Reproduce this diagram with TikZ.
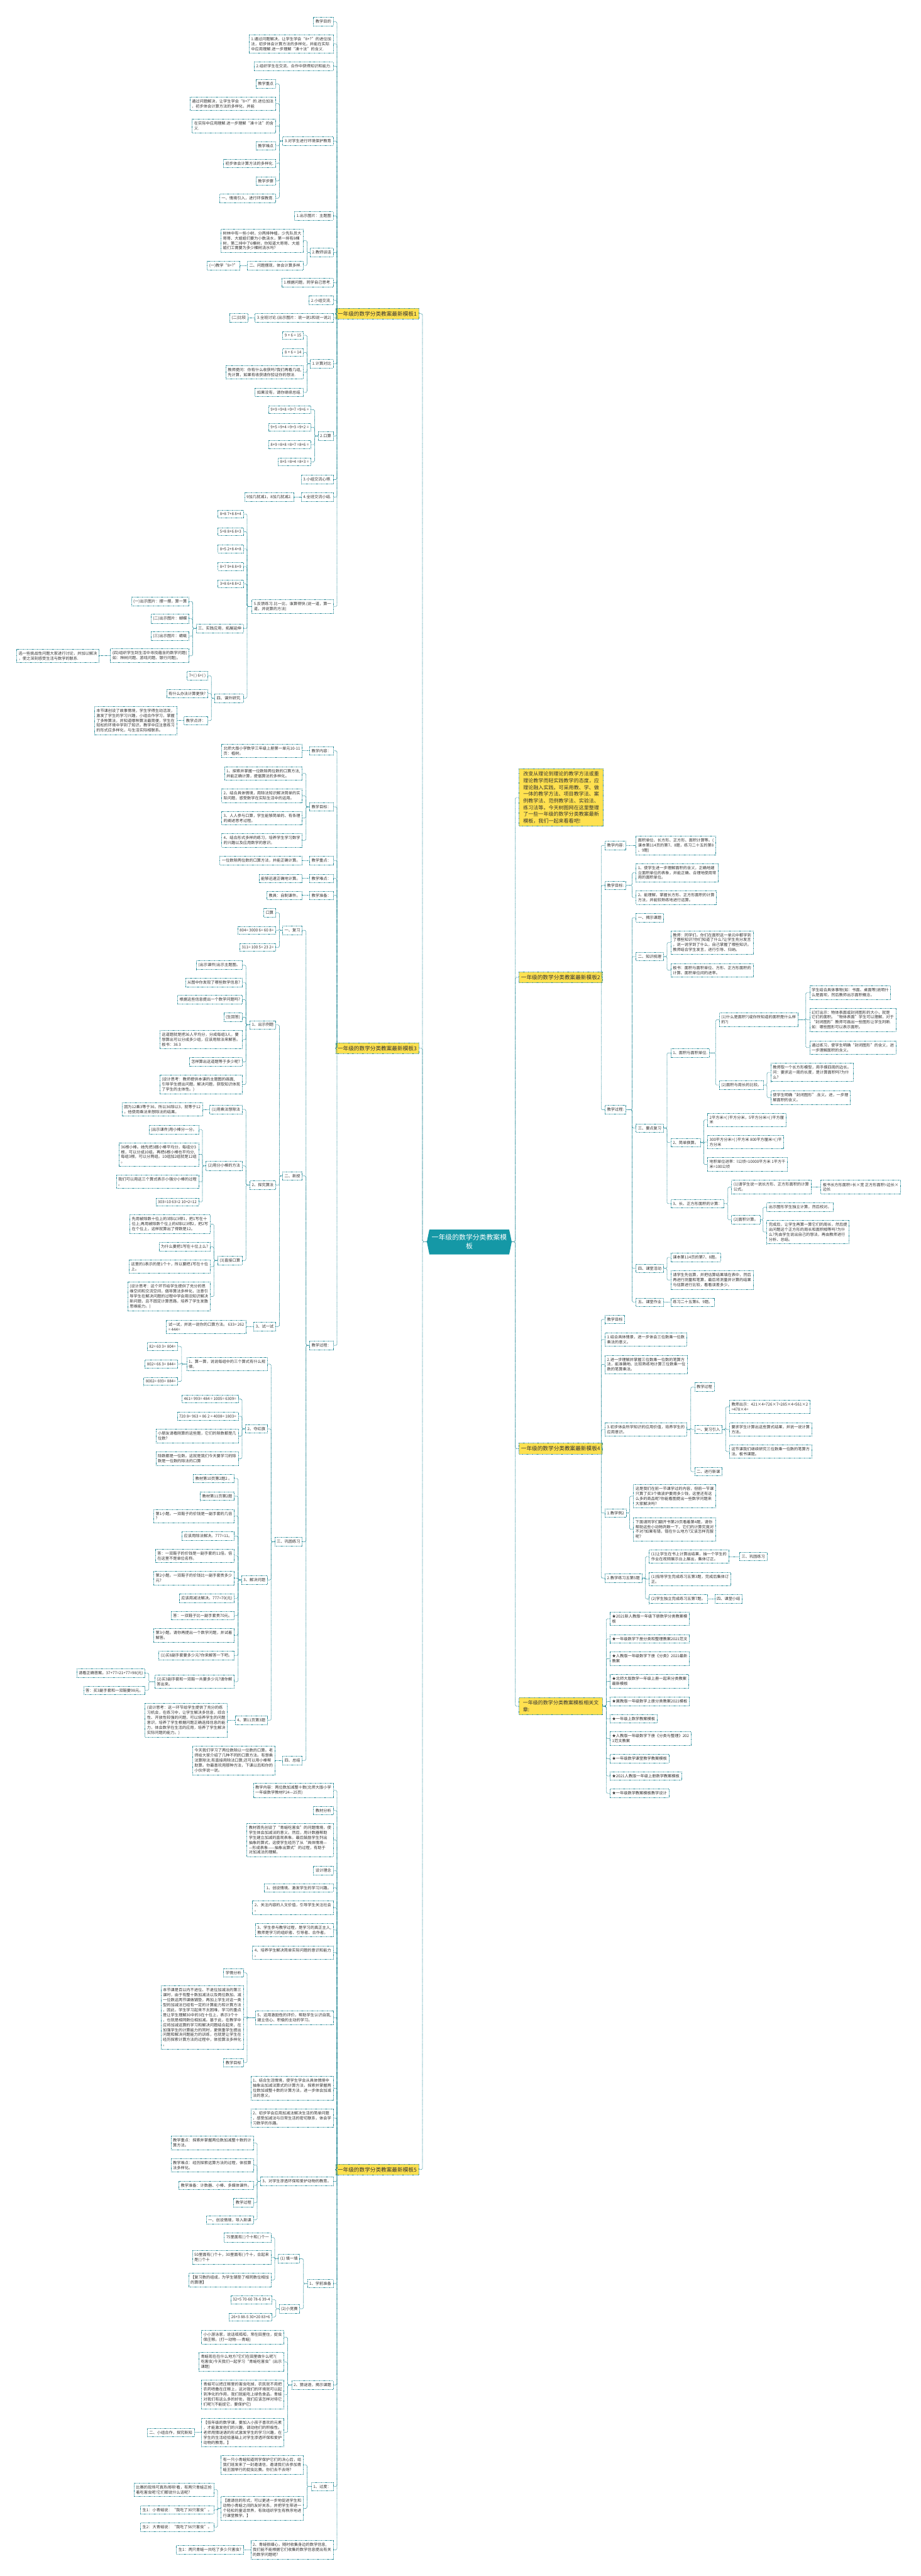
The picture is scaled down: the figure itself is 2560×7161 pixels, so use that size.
\documentclass[tikz,border=0pt]{standalone}
\usepackage{fontspec}
\setmainfont{Noto Sans CJK SC}
\usepackage{xcolor}
\definecolor{linecol}{HTML}{2E8E9B}
\definecolor{rootcol}{HTML}{1598A6}
\definecolor{topiccol}{HTML}{FFE150}
\definecolor{txtcol}{HTML}{333333}

\tikzset{
  box/.style={draw=linecol, line width=0.25mm, dash pattern=on 0.5mm off 0.3mm, fill=white,
    text=txtcol, align=left, inner xsep=1.1mm, inner ysep=1.35mm, font=\fontsize{6.2}{7.9}\selectfont},
  lbox/.style={box, anchor=east},
  rbox/.style={box, anchor=west},
  topic/.style={box, fill=topiccol, inner ysep=1.6mm, font=\fontsize{8.6}{11}\selectfont},
  note/.style={topic, inner xsep=1.6mm, font=\fontsize{8}{10.6}\selectfont},
  root/.style={minimum width=47.2mm, minimum height=13.8mm, inner sep=0, text=white, align=center,
    font=\fontsize{10.8}{14}\selectfont},
  link/.style={draw=linecol, line width=0.25mm, dash pattern=on 0.5mm off 0.3mm, rounded corners=0.6mm},
}

\begin{document}
\begin{tikzpicture}[x=0.2mm, y=-0.2mm]
\useasboundingbox (0,0) rectangle (2560,7161);

% centre
\fill[rootcol] (1194,3418) -- (1416,3418) -- (1423,3452) -- (1416,3487) -- (1194,3487) -- (1187,3452) -- cycle;
\node[root] (root) at (1305,3452) {一年级的数学分类教案模\\板};

% ---------- template 1 ----------
\node[topic, anchor=east] (ta) at (1165,872) {一年级的数学分类教案最新模板1};
\node[lbox] (a1) at (927,60) {教学目的};
\node[lbox] (a2) at (927,122) {1.通过问题解决，让学生学会“8+?”的进位加\\法，初步体会计算方法的多样化，并能在实际\\中应用理解.进一步理解“凑十法”的含义.};
\node[lbox] (a3) at (927,184) {2.组织学生在交流、合作中获得知识和能力.};
\node[lbox] (a4) at (927,392) {3.对学生进行环境保护教育};
\node[lbox] (a4a) at (767,233) {教学重点};
\node[lbox] (a4b) at (767,288) {通过问题解决，让学生学会“8+?”的.进位加法\\，初步体会计算方法的多样化，并能};
\node[lbox] (a4c) at (767,350) {在实际中应用理解.进一步理解“凑十法”的含\\义.};
\node[lbox] (a4d) at (767,405) {教学难点};
\node[lbox] (a4e) at (767,454) {初步体会计算方法的多样化.};
\node[lbox] (a4f) at (767,503) {教学步骤};
\node[lbox] (a4g) at (767,551) {一、情境引入，进行环保教育.};
\node[lbox] (a5) at (927,600) {1.出示图片：主题图};
\node[lbox] (a6) at (927,702) {2.教师谈话};
\node[lbox] (a6a) at (844,669) {树林中有一些小树，分两排种植，少先队员大\\哥哥、大姐姐们要为小数浇水，第一排有8棵\\树，第二排中了6棵树，你知道大哥哥、大姐\\姐们工需要为多少棵树浇水吗?};
\node[lbox] (a6b) at (844,738) {二、问题摆现，体会计算多样.};
\node[lbox] (a6b1) at (667,738) {(一)教学“8+?”};
\node[lbox] (a7) at (927,786) {1.根据问题，同学自己思考.};
\node[lbox] (a8) at (927,835) {2.小组交流.};
\node[lbox] (a9) at (927,884) {3.全班讨论.(出示图片：说一说1和说一说2)};
\node[lbox] (a9a) at (690,884) {(二)比较};
\node[lbox] (a10) at (927,1011) {1.计算对比};
\node[lbox] (a10a) at (844,932) {9 + 6 = 15};
\node[lbox] (a10b) at (844,980) {8 + 6 = 14};
\node[lbox] (a10c) at (844,1035) {教师提问：你有什么收获吗?我们再看几组,\\先计算，如果有收获请你验证你的想法.};
\node[lbox] (a10d) at (844,1091) {如果没有，请你继续总结.};
\node[lbox] (a11) at (927,1212) {2.口算};
\node[lbox] (a11a) at (865,1139) {9+9 =9+8 =9+7 =9+6 =};
\node[lbox] (a11b) at (865,1188) {9+5 =9+4 =9+3 =9+2 =};
\node[lbox] (a11c) at (865,1236) {8+9 =8+8 =8+7 =8+6 =};
\node[lbox] (a11d) at (865,1284) {8+5 =8+4 =8+3 =};
\node[lbox] (a12) at (927,1333) {3.小组交流心得.};
\node[lbox] (a13) at (927,1382) {4.全班交流小结.};
\node[lbox] (a13a) at (817,1382) {9加几就减1，8加几就减2.};
\node[lbox] (a14) at (927,1686) {5.反馈练习.比一比，谁算得快.(说一道，算一\\道，并说算的方法)};
\node[lbox] (a14a) at (677,1429) {8+8 7+8 8+4};
\node[lbox] (a14b) at (677,1478) {5+8 8+6 8+3};
\node[lbox] (a14c) at (677,1526) {8+5 2+8 4+8};
\node[lbox] (a14d) at (677,1575) {8+7 9+8 8+9};
\node[lbox] (a14e) at (677,1623) {3+8 6+8 8+2};
\node[lbox] (a14f) at (677,1747) {三、实践应用，拓展延伸};
\node[lbox] (a14f1) at (526,1672) {(一)出示图片：摆一摆，算一算};
\node[lbox] (a14f2) at (526,1720) {(二)出示图片：蝴蝶};
\node[lbox] (a14f3) at (526,1768) {(三)出示图片：蜻蜓};
\node[lbox] (a14f4) at (526,1823) {(四)组织学生到生活中寻找蕴含的数学问题(\\如：种树问题、游戏问题、银行问题)。};
\node[lbox] (a14f4a) at (276,1823) {选一些挑战性问题大家进行讨论，并加以解决\\，使之深刻感受生活与数学的联系.};
\node[lbox] (a14g) at (677,1941) {四、课外研究.};
\node[lbox] (a14g1) at (578,1879) {7+( ) 6+( )};
\node[lbox] (a14g2) at (578,1928) {有什么办法计算更快?};
\node[lbox] (a14g3) at (578,2003) {教学点评：};
\node[lbox] (a14g3a) at (492,2003) {本节课创设了故事情境，学生学得生动活泼，\\激发了学生的学习兴趣，小组合作学习，掌握\\了多种算法，并知道哪种算法最简便，学生在\\轻松的环境中学到了知识。教学中应注意练习\\的形式应多样化，与生活实际相联系。};

% ---------- template 3 ----------
\node[topic, anchor=east] (tc) at (1165,2914) {一年级的数学分类教案最新模板3};
\node[lbox] (c1) at (927,2087) {教学内容：};
\node[lbox] (c1a) at (841,2087) {北师大版小学数学三年级上册第一单元10-11\\页：植树。};
\node[lbox] (c2) at (927,2243) {教学目标：};
\node[lbox] (c2a) at (841,2150) {1、探索并掌握一位数除两位数的口算方法,\\并能正确计算，提倡算法的多样化。};
\node[lbox] (c2b) at (841,2212) {2、结合具体情境，用除法知识解决简单的实\\际问题，感受数学在实际生活中的运用。};
\node[lbox] (c2c) at (841,2274) {3、人人参与口算，学生能够简单的、有条理\\的阐述思考过程。};
\node[lbox] (c2d) at (841,2336) {4、结合形式多样的练习，培养学生学习数学\\的兴趣以及应用数学的意识。};
\node[lbox] (c3) at (927,2392) {教学重点：};
\node[lbox] (c3a) at (841,2392) {一位数除两位数的口算方法，并能正确计算。};
\node[lbox] (c4) at (927,2442) {教学难点：};
\node[lbox] (c4a) at (841,2442) {能够迅速正确地计算。};
\node[lbox] (c5) at (927,2489) {教学准备：};
\node[lbox] (c5a) at (841,2489) {教具：自制课件。};
\node[lbox] (c6) at (927,3740) {教学过程：};
\node[lbox] (c6a) at (841,2586) {一、复习};
\node[lbox] (c6a1) at (767,2537) {口算};
\node[lbox] (c6a2) at (767,2586) {804= 3000 6= 60 8=};
\node[lbox] (c6a3) at (767,2634) {311= 100 5= 23 2=};
\node[lbox] (c6b) at (841,3269) {二、新授};
\node[lbox] (c6b1) at (767,2849) {1、出示例题};
\node[lbox] (c6b1a) at (674,2683) {(出示课件)出示主题图。};
\node[lbox] (c6b1b) at (674,2731) {从图中你发现了哪些数学信息?};
\node[lbox] (c6b1c) at (674,2779) {根据这些信息提出一个数学问题吗?};
\node[lbox] (c6b1d) at (674,2828) {(生回答)};
\node[lbox] (c6b1e) at (674,2890) {这道题就是把36人平均分，分成每组3人，要\\想算出可以分成多少组，应该用除法来解答。\\板书：36 3};
\node[lbox] (c6b1f) at (674,2952) {怎样算出这道题等于多少呢?};
\node[lbox] (c6b1g) at (674,3015) {(设计思考：教师提供本课的主题图的画面,\\引导学生提出问题，解决问题，获取知识体现\\了学生的主体性。)};
\node[lbox] (c6b2) at (767,3294) {2、探究算法};
\node[lbox] (c6b2a) at (674,3084) {(1)用乘法想除法};
\node[lbox] (c6b2a1) at (564,3084) {因为12乘3等于36，所以36除以3，就等于12\\。他使用乘法来想除法的结果。};
\node[lbox] (c6b2b) at (674,3241) {(2)用分小棒的方法};
\node[lbox] (c6b2b1) at (553,3140) {(出示课件)用小棒分一分。};
\node[lbox] (c6b2b2) at (553,3209) {36根小棒。她先把3捆小棒平均分，每组分3\\根，可以分成10组。再把6根小棒也平均分,\\每组3根，可以分两组。10组加2组就是12组\\。};
\node[lbox] (c6b2b3) at (553,3285) {我们可以用这三个算式表示小强分小棒的过程\\。};
\node[lbox] (c6b2b4) at (553,3341) {303=10 63=2 10+2=12};
\node[lbox] (c6b2c) at (674,3504) {(3)直接口算};
\node[lbox] (c6b2c1) at (585,3403) {先用被除数十位上的3除以3得1，把1写在十\\位上;再用被除数个位上的6除以3得2，把2写\\在个位上，这样就算出了得数是12。};
\node[lbox] (c6b2c2) at (585,3466) {为什么要把1写在十位上么?};
\node[lbox] (c6b2c3) at (585,3521) {这里的1表示的是1个十，所以要把1写在十位\\上。};
\node[lbox] (c6b2c4) at (585,3604) {(设计思考：这个环节给学生提供了充分的思\\维空间和交流空间，倡导算法多样化，注意引\\导学生在解决问题的过程中学会用旧知识解决\\新问题，且不固定计算思路，培养了学生发散\\思维能力。)};
\node[lbox] (c6b3) at (767,3688) {3、试一试};
\node[lbox] (c6b3a) at (685,3688) {试一试，并说一说你的口算方法。 633= 262\\= 444=};
\node[lbox] (c6c) at (841,4286) {三、巩固练习};
\node[lbox] (c6c1) at (744,3792) {1、算一算，说说每组中的三个算式有什么规\\律。};
\node[lbox] (c6c1a) at (495,3743) {82= 60 3= 804=};
\node[lbox] (c6c1b) at (495,3792) {802= 66 3= 844=};
\node[lbox] (c6c1c) at (495,3840) {8002= 693= 884=};
\node[lbox] (c6c2) at (744,3972) {2、夺红旗};
\node[lbox] (c6c2a) at (663,3889) {461= 993= 484 = 1005= 6309=};
\node[lbox] (c6c2b) at (663,3937) {720 8= 963 = 86 2 = 4008= 1803=};
\node[lbox] (c6c2c) at (663,3992) {小朋友请看刚算的这些题，它们的除数都是几\\位数?};
\node[lbox] (c6c2d) at (663,4055) {除数都是一位数。这就是我们今天要学习的除\\数是一位数的除法的口算};
\node[lbox] (c6c3) at (744,4392) {3、解决问题};
\node[lbox] (c6c3a) at (652,4110) {教材第10页第2题2 。};
\node[lbox] (c6c3b) at (652,4159) {教材第11页第2题};
\node[lbox] (c6c3c) at (652,4214) {第1小题。一双鞋子的价钱是一副手套的几倍\\?};
\node[lbox] (c6c3d) at (652,4270) {应该用除法解决。777=11。};
\node[lbox] (c6c3e) at (652,4325) {答：一双鞋子的价钱是一副手套的11倍。倍\\在这里不是单位名称。};
\node[lbox] (c6c3f) at (652,4387) {第2小题。一双鞋子的价钱比一副手套贵多少\\元?};
\node[lbox] (c6c3g) at (652,4443) {应该用减法解决。777=70(元)};
\node[lbox] (c6c3h) at (652,4491) {答：一双鞋子比一副手套贵70元。};
\node[lbox] (c6c3i) at (652,4546) {第3小题。请你再提出一个数学问题，并试着\\解答。};
\node[lbox] (c6c3j) at (652,4602) {(1)买8副手套要多少元?你来解答一下吧。};
\node[lbox] (c6c3k) at (652,4675) {(2)买3副手套和一双鞋一共要多少元?请你解\\答出来。};
\node[lbox] (c6c3k1) at (404,4651) {请看正确答案。37+77=21+77=98(元)};
\node[lbox] (c6c3k2) at (404,4699) {答：买3副手套和一双鞋要98元。};
\node[lbox] (c6c4) at (744,4782) {4、第11页第3题};
\node[lbox] (c6c4a) at (633,4782) {(设计思考：这一环节给学生提供了充分的练\\习机会，在练习中，让学生解决多信息，综合\\性、开放性较强的问题，可以培养学生的问题\\意识，培养了学生根据问题正确选择信息的能\\力，体会数学在生活的应用，培养了学生解决\\实际问题的能力。)};
\node[lbox] (c6d) at (841,4894) {四、总结};
\node[lbox] (c6d1) at (765,4894) {今天我们学习了两位数除以一位数的口算。老\\师给大家介绍了几种不同的口算方法。有想乘\\法算除法;有直接用除法口算;还可以用小棒帮\\助算。你最喜欢用那种方法，下课以后和你的\\小伙伴说一说。};

% ---------- template 5 ----------
\node[topic, anchor=east] (te) at (1165,6031) {一年级的数学分类教案最新模板5};
\node[lbox] (e1) at (927,4977) {教学内容：两位数加减整十数(北师大版小学\\一年级数学教材P24—25页)};
\node[lbox] (e2) at (927,5033) {教材分析};
\node[lbox] (e3) at (927,5115) {教材首先创设了“青蛙吃害虫”的问题情境，使\\学生体会加减法的意义。然后，用计数器帮助\\学生建立加减的直观表象。最后鼓励学生列出\\抽象的算式，这使学生经历了从“具体情境—\\—形成表象——抽象出算式”的过程，有助于\\对加减法的理解。};
\node[lbox] (e4) at (927,5200) {设计理念};
\node[lbox] (e5) at (927,5248) {1、创设情境、激发学生的学习兴趣。};
\node[lbox] (e6) at (927,5303) {2、关注内容的人文价值，引导学生关注社会\\。};
\node[lbox] (e7) at (927,5365) {3、学生参与教学过程，是学习的真正主人,\\教师是学习的组织者、引导者、合作者。};
\node[lbox] (e8) at (927,5428) {4、培养学生解决简单实际问题的意识和能力\\。};
\node[lbox] (e9) at (927,5609) {5、运用激励性的评价，帮助学生认识自我,\\建立信心、积极的主动的学习。};
\node[lbox] (e9a) at (677,5484) {学情分析};
\node[lbox] (e9b) at (677,5608) {本节课是百以内不进位、不退位加减法的第三\\课时，由于有整十数加减法以及两位数加、减\\一位数这两节课做铺垫，再加上学生对这一类\\型的加减法已经有一定的计算能力和计算方法\\，因此，学生学习起来不太困难，学习的重点\\是让学生理解30中的3在十位上，表示3个十\\，也就是相同数位相加减。基于此，在教学中\\应将加减运算的学习和解决问题结合起来，在\\加强学生的计算能力的同时，更侧重学生提出\\问题和解决问题能力的训练，也就是让学生在\\经历探索计算方法的过程中，体验算法多样化\\。};
\node[lbox] (e9c) at (677,5734) {教学目标};
\node[lbox] (e10) at (927,5805) {1、结合生活情境，使学生学会从具体情境中\\抽象出加减法算式的计算方法，探索并掌握两\\位数加减整十数的计算方法，进一步体会加减\\法的意义。};
\node[lbox] (e11) at (927,5888) {2、初步学会应用加减法解决生活的简单问题\\，感受加减法与日常生活的密切联系，体会学\\习数学的乐趣。};
\node[lbox] (e12) at (927,6064) {3、对学生渗透环保和爱护动物的教育。};
\node[lbox] (e12a) at (705,5957) {教学重点：探索并掌握两位数加减整十数的计\\算方法。};
\node[lbox] (e12b) at (705,6019) {教学难点：经历探索运算方法的过程，体验算\\法多样化。};
\node[lbox] (e12c) at (705,6075) {教学准备：计数器、小棒、多媒体课件。};
\node[lbox] (e12d) at (705,6123) {教学过程};
\node[lbox] (e12e) at (705,6171) {一、创设情境，导入新课};
\node[lbox] (e13) at (927,6348) {1、学前准备};
\node[lbox] (e13a) at (834,6279) {(1) 填一填};
\node[lbox] (e13a1) at (754,6220) {75里面有( )个十和( )个一};
\node[lbox] (e13a2) at (754,6275) {50里面有( )个十，30里面有( )个十，合起来\\是( )个十};
\node[lbox] (e13a3) at (754,6338) {【复习数的组成，为学生铺垫了相同数位相加\\的算理】};
\node[lbox] (e13b) at (834,6418) {(2)小竞赛};
\node[lbox] (e13b1) at (757,6393) {32+5 70-60 78-6 39-4};
\node[lbox] (e13b2) at (757,6441) {26+3 88-5 30+20 83+6};
\node[lbox] (e14) at (927,6630) {2、猜谜语，揭示课题};
\node[lbox] (e14a) at (790,6497) {小小游泳家，说话呱呱呱，常在田里住，捉虫\\保庄稼。(打一动物-{}-{}-{}-青蛙)};
\node[lbox] (e14b) at (790,6566) {青蛙现在在什么地方?它们在田里做什么呢?(\\吃害虫)今天我们一起学习“青蛙吃害虫”(出示\\课题)};
\node[lbox] (e14c) at (790,6657) {青蛙可以把庄稼里的害虫吃掉，农民就不用把\\农药喷撒在庄稼上，这对我们的环境就可以起\\到净化的作用，我们就能吃上绿色食品。青蛙\\对我们有这么多的好处，我们应该怎样对待它\\们呢?(不能捉它，要保护它)};
\node[lbox] (e14d) at (790,6762) {【低年级的数学课，要加入小孩子喜欢的元素\\，才能激发他们的兴趣，调动他们的积极性。\\老师用猜谜语的形式激发学生的学习兴趣，在\\学生的生活经验基础上对学生渗透环保和爱护\\动物的教育。】};
\node[lbox] (e14d1) at (541,6762) {二、小组合作，探究新知};
\node[lbox] (e15) at (927,6912) {1、过度：};
\node[lbox] (e15a) at (844,6852) {有一只小青蛙知道同学保护它们的决心后，给\\我们班发来了一封邀请信，邀请我们去参加青\\蛙王国举行的捉虫比赛。你们去不去呀?};
\node[lbox] (e15b) at (844,6973) {【邀请信的形式，可以更进一步地促进学生和\\动物小青蛙之间的友好关系，并把学生带进一\\个轻松的童话世界，有效组织学生有秩序地进\\行课堂教学。】};
\node[lbox] (e15b1) at (595,6921) {比赛的现场可真热闹呀!看，有两只青蛙正抢\\着吃害虫呢!它们都说什么话呢?};
\node[lbox] (e15b2) at (595,6977) {生1：小青蛙说：“我吃了30只害虫”。};
\node[lbox] (e15b3) at (595,7025) {生2：大青蛙说：“我吃了56只害虫”。};
\node[lbox] (e16) at (927,7088) {2、青蛙很细心，随时收集身边的数学信息,\\我们能不能根据它们收集的数学信息提出有关\\的数学问题呢?};
\node[lbox] (e16a) at (677,7088) {生1：两只青蛙一共吃了多少只害虫?};

% ---------- right side ----------
\node[note, anchor=west, minimum width=46.8mm] (intro) at (1443,2217) {改变从理论到理论的教学方法或重\\理论教学而轻实践教学的态度，应\\理论融入实践。可采用教、学、做\\一体的教学方法、项目教学法、案\\例教学法、范例教学法、实验法、\\练习法等。今天树图网在这里整理\\了一些一年级的数学分类教案最新\\模板，我们一起来看看吧!};

% template 2
\node[topic, anchor=west] (tb) at (1443,2717) {一年级的数学分类教案最新模板2};
\node[rbox] (b1) at (1682,2350) {教学内容:};
\node[rbox] (b1a) at (1768,2350) {面积单位、长方形、正方形、面积计算等。(\\课本第114页的第7、8题，练习二十五的第8\\、9题)};
\node[rbox] (b2) at (1682,2461) {教学目标:};
\node[rbox] (b2a) at (1768,2426) {1、使学生进一步理解面积的含义，正确地建\\立面积单位的表象，并能正确、合理地使用常\\用的面积单位。};
\node[rbox] (b2b) at (1768,2495) {2、能理解，掌握长方形、正方形面积的计算\\方法，并能较熟练地进行运算。};
\node[rbox] (b3) at (1682,3085) {教学过程:};
\node[rbox] (b3a) at (1768,2551) {一、揭示课题};
\node[rbox] (b3b) at (1768,2659) {二、知识梳理};
\node[rbox] (b3b1) at (1865,2620) {教师：同学们。你们在面积这一单元中都学到\\了哪些知识?你们知道了什么?让学生充分发言\\，说一说学到了什么，自己掌握了哪些知识。\\教师结合学生发言，进行引导、归纳。};
\node[rbox] (b3b2) at (1865,2697) {板书：面积与面积单位、方形、正方形面积的\\计算、面积单位间的进率。};
\node[rbox] (b3c) at (1768,3136) {三、要点复习};
\node[rbox] (b3c1) at (1865,2927) {1、面积与面积单位.};
\node[rbox] (b3c1a) at (2000,2835) {(1)什么是面积?(或你所知道的面积是什么样\\的?)};
\node[rbox] (b3c1a1) at (2251,2759) {学生结合具体事物(如：书面、桌面等)说明什\\么是面坝，然后教师出示面积概念。};
\node[rbox] (b3c1a2) at (2251,2835) {幻灯出示：物体表面或封闭图形的大小，就是\\它们的面积。“物体表面”学生可以理解，对于\\“封闭图形”教师可画出一些图形让学生判断.\\如：哪些图形可以表示面积。};
\node[rbox] (b3c1a3) at (2251,2912) {通过练习，使学生明确“封闭图形”的含义，进\\一步理解面积的含义。};
\node[rbox] (b3c1b) at (2000,3016) {(2)面积与周长的比较。};
\node[rbox] (b3c1b1) at (2143,2981) {教师取一个长方形模型，用手摸四周的边长。\\问：要求这一周的长度，是计算面积吗?为什\\么?};
\node[rbox] (b3c1b2) at (2143,3051) {使学生明确“封闭图形”.含义。进，一步理\\解面积的含义。};
\node[rbox] (b3c2) at (1865,3176) {2、简单换算。};
\node[rbox] (b3c2a) at (1967,3113) {2平方米=( )平方分米，5平方分米=( )平方厘\\米};
\node[rbox] (b3c2b) at (1967,3175) {300平方分米=( )平方米 800平方厘米=( )平\\方分米};
\node[rbox] (b3c2c) at (1967,3237) {地积单位进率：l公顷=10000平方米 1平方千\\米=100公顷};
\node[rbox] (b3c3) at (1865,3346) {3、长、正方形面积的计算：};
\node[rbox] (b3c3a) at (2034,3300) {(1)请学生说一说长方形、正方形面积的计算\\公式。};
\node[rbox] (b3c3a1) at (2282,3300) {板书长方形面积=长×宽 正方形面积=边长×\\边长};
\node[rbox] (b3c3b) at (2034,3391) {(2)面积计算。};
\node[rbox] (b3c3b1) at (2132,3356) {出示图形学生独立计算，然后校对。};
\node[rbox] (b3c3b2) at (2132,3425) {完成后，让学生再算一算它们的周长，然后提\\出问题这个正方形的周长和面积相等吗?为什\\么?先由学生说出自己的想法，再由教师进行\\分析、总结。};
\node[rbox] (b3d) at (1768,3526) {四、课堂活动};
\node[rbox] (b3d1) at (1865,3495) {课本第114页的第7、8题。};
\node[rbox] (b3d2) at (1865,3558) {请学生先估算，并把估算结果填在表中，然后\\再进行测量和笔算，最后将测量并计算的结果\\与估算进行比较，看看误差多少。};
\node[rbox] (b3e) at (1768,3620) {五、课堂作业};
\node[rbox] (b3e1) at (1865,3620) {练习二十五第8、9题。};

% template 4
\node[topic, anchor=west] (td) at (1443,4027) {一年级的数学分类教案最新模板4};
\node[rbox] (d1) at (1682,3668) {教学目标};
\node[rbox] (d2) at (1682,3724) {1.结合具体情景，进一步体会三位数乘一位数\\乘法的意义。};
\node[rbox] (d3) at (1682,3793) {2.进一步理解并掌握三位数乘一位数的笔算方\\法，能准确地、比较熟练地计算三位数乘一位\\数的笔算乘法。};
\node[rbox] (d4) at (1682,3974) {3.初步体会所学知识的应用价值，培养学生的\\应用意识。};
\node[rbox] (d4a) at (1931,3856) {教学过程};
\node[rbox] (d4b) at (1931,3974) {一、复习引入};
\node[rbox] (d4b1) at (2028,3911) {教师出示：421×4=726×7=285×4=561×2\\=478×4=};
\node[rbox] (d4b2) at (2028,3974) {要求学生计算出这些算式结果，并说一说计算\\方法。};
\node[rbox] (d4b3) at (2028,4035) {这节课我们继续研究三位数乘一位数的笔算方\\法。板书课题。};
\node[rbox] (d4c) at (1931,4091) {二、进行新课};
\node[rbox] (d5) at (1682,4206) {1.教学例2};
\node[rbox] (d5a) at (1761,4159) {这是我们在前一节课学过的内容，但前一节课\\只算了买3个微波炉要用多少钱，这里还有这\\么多的商品呢?你能看图提出一些数学问题来\\大家解决吗?};
\node[rbox] (d5b) at (1761,4251) {下面请同学们翻开书第29页看着第4题，请你\\帮助这些小动物判断一下，它们的计算究竟对\\不对?如果有错，错在什么地方?又该怎样克服\\呢?};
\node[rbox] (d6) at (1682,4387) {2.教学练习五第5题};
\node[rbox] (d6a) at (1805,4327) {(1)让学生在书上计算出结果，抽一个学生的\\作业在视频展示台上展出，集体订正。};
\node[rbox] (d6a1) at (2056,4327) {三、巩固练习};
\node[rbox] (d6b) at (1805,4390) {(1)指导学生完成练习五第3题，完成后集体订\\正。};
\node[rbox] (d6c) at (1805,4445) {(2)学生独立完成练习五第7题。};
\node[rbox] (d6c1) at (1987,4445) {四、课堂小结};

% related articles
\node[note, anchor=west, minimum width=46.4mm] (rel) at (1443,4743) {一年级的数学分类教案模板相关文\\章:};
\node[rbox] (r1) at (1696,4500) {★2021新人教版一年级下册数学分类教案模\\板};
\node[rbox] (r2) at (1696,4556) {★一年级数学下册分类和整理教案2021范文};
\node[rbox] (r3) at (1696,4611) {★人教版一年级数学下册《分类》2021最新\\教案};
\node[rbox] (r4) at (1696,4674) {★北师大版数学一年级上册一起来分类教案\\最新模板};
\node[rbox] (r5) at (1696,4730) {★冀教版一年级数学上册分类教案2021模板};
\node[rbox] (r6) at (1696,4778) {★一年级上数学教案模板};
\node[rbox] (r7) at (1696,4833) {★人教版一年级数学下册《分类与整理》202\\1范文教案};
\node[rbox] (r8) at (1696,4889) {★一年级数学课堂教学教案模板};
\node[rbox] (r9) at (1696,4937) {★2021人教版一年级上册数学教案模板};
\node[rbox] (r10) at (1696,4985) {★一年级数学教案模板教学设计};

% ---------- connectors ----------
\foreach \c in {ta,tc,te} \draw[link] (root.west) -| ([xshift=2mm]\c.east) -- (\c.east);
\foreach \c in {intro,tb,td,rel} \draw[link] (root.east) -| ([xshift=-2mm]\c.west) -- (\c.west);

% left: template 1
\foreach \c in {a1,a2,a3,a4,a5,a6,a7,a8,a9,a10,a11,a12,a13,a14} \draw[link] (ta.west) -| ([xshift=2mm]\c.east) -- (\c.east);
\foreach \c in {a4a,a4b,a4c,a4d,a4e,a4f,a4g} \draw[link] (a4.west) -| ([xshift=2mm]\c.east) -- (\c.east);
\foreach \c in {a6a,a6b} \draw[link] (a6.west) -| ([xshift=2mm]\c.east) -- (\c.east);
\draw[link] (a6b.west) -- (a6b1.east);
\draw[link] (a9.west) -- (a9a.east);
\foreach \c in {a10a,a10b,a10c,a10d} \draw[link] (a10.west) -| ([xshift=2mm]\c.east) -- (\c.east);
\foreach \c in {a11a,a11b,a11c,a11d} \draw[link] (a11.west) -| ([xshift=2mm]\c.east) -- (\c.east);
\draw[link] (a13.west) -- (a13a.east);
\foreach \c in {a14a,a14b,a14c,a14d,a14e,a14f,a14g} \draw[link] (a14.west) -| ([xshift=2mm]\c.east) -- (\c.east);
\foreach \c in {a14f1,a14f2,a14f3,a14f4} \draw[link] (a14f.west) -| ([xshift=2mm]\c.east) -- (\c.east);
\draw[link] (a14f4.west) -- (a14f4a.east);
\foreach \c in {a14g1,a14g2,a14g3} \draw[link] (a14g.west) -| ([xshift=2mm]\c.east) -- (\c.east);
\draw[link] (a14g3.west) -- (a14g3a.east);

% left: template 3
\foreach \c in {c1,c2,c3,c4,c5,c6} \draw[link] (tc.west) -| ([xshift=2mm]\c.east) -- (\c.east);
\draw[link] (c1.west) -- (c1a.east);
\foreach \c in {c2a,c2b,c2c,c2d} \draw[link] (c2.west) -| ([xshift=2mm]\c.east) -- (\c.east);
\draw[link] (c3.west) -- (c3a.east);
\draw[link] (c4.west) -- (c4a.east);
\draw[link] (c5.west) -- (c5a.east);
\foreach \c in {c6a,c6b,c6c,c6d} \draw[link] (c6.west) -| ([xshift=2mm]\c.east) -- (\c.east);
\foreach \c in {c6a1,c6a2,c6a3} \draw[link] (c6a.west) -| ([xshift=2mm]\c.east) -- (\c.east);
\foreach \c in {c6b1,c6b2,c6b3} \draw[link] (c6b.west) -| ([xshift=2mm]\c.east) -- (\c.east);
\foreach \c in {c6b1a,c6b1b,c6b1c,c6b1d,c6b1e,c6b1f,c6b1g} \draw[link] (c6b1.west) -| ([xshift=2mm]\c.east) -- (\c.east);
\foreach \c in {c6b2a,c6b2b,c6b2c} \draw[link] (c6b2.west) -| ([xshift=2mm]\c.east) -- (\c.east);
\draw[link] (c6b2a.west) -- (c6b2a1.east);
\foreach \c in {c6b2b1,c6b2b2,c6b2b3,c6b2b4} \draw[link] (c6b2b.west) -| ([xshift=2mm]\c.east) -- (\c.east);
\foreach \c in {c6b2c1,c6b2c2,c6b2c3,c6b2c4} \draw[link] (c6b2c.west) -| ([xshift=2mm]\c.east) -- (\c.east);
\draw[link] (c6b3.west) -- (c6b3a.east);
\foreach \c in {c6c1,c6c2,c6c3,c6c4} \draw[link] (c6c.west) -| ([xshift=2mm]\c.east) -- (\c.east);
\foreach \c in {c6c1a,c6c1b,c6c1c} \draw[link] (c6c1.west) -| ([xshift=2mm]\c.east) -- (\c.east);
\foreach \c in {c6c2a,c6c2b,c6c2c,c6c2d} \draw[link] (c6c2.west) -| ([xshift=2mm]\c.east) -- (\c.east);
\foreach \c in {c6c3a,c6c3b,c6c3c,c6c3d,c6c3e,c6c3f,c6c3g,c6c3h,c6c3i,c6c3j,c6c3k} \draw[link] (c6c3.west) -| ([xshift=2mm]\c.east) -- (\c.east);
\foreach \c in {c6c3k1,c6c3k2} \draw[link] (c6c3k.west) -| ([xshift=2mm]\c.east) -- (\c.east);
\draw[link] (c6c4.west) -- (c6c4a.east);
\draw[link] (c6d.west) -- (c6d1.east);

% left: template 5
\foreach \c in {e1,e2,e3,e4,e5,e6,e7,e8,e9,e10,e11,e12,e13,e14,e15,e16} \draw[link] (te.west) -| ([xshift=2mm]\c.east) -- (\c.east);
\foreach \c in {e9a,e9b,e9c} \draw[link] (e9.west) -| ([xshift=2mm]\c.east) -- (\c.east);
\foreach \c in {e12a,e12b,e12c,e12d,e12e} \draw[link] (e12.west) -| ([xshift=2mm]\c.east) -- (\c.east);
\foreach \c in {e13a,e13b} \draw[link] (e13.west) -| ([xshift=2mm]\c.east) -- (\c.east);
\foreach \c in {e13a1,e13a2,e13a3} \draw[link] (e13a.west) -| ([xshift=2mm]\c.east) -- (\c.east);
\foreach \c in {e13b1,e13b2} \draw[link] (e13b.west) -| ([xshift=2mm]\c.east) -- (\c.east);
\foreach \c in {e14a,e14b,e14c,e14d} \draw[link] (e14.west) -| ([xshift=2mm]\c.east) -- (\c.east);
\draw[link] (e14d.west) -- (e14d1.east);
\foreach \c in {e15a,e15b} \draw[link] (e15.west) -| ([xshift=2mm]\c.east) -- (\c.east);
\foreach \c in {e15b1,e15b2,e15b3} \draw[link] (e15b.west) -| ([xshift=2mm]\c.east) -- (\c.east);
\draw[link] (e16.west) -- (e16a.east);

% right: template 2
\foreach \c in {b1,b2,b3} \draw[link] (tb.east) -| ([xshift=-2mm]\c.west) -- (\c.west);
\draw[link] (b1.east) -- (b1a.west);
\foreach \c in {b2a,b2b} \draw[link] (b2.east) -| ([xshift=-2mm]\c.west) -- (\c.west);
\foreach \c in {b3a,b3b,b3c,b3d,b3e} \draw[link] (b3.east) -| ([xshift=-2mm]\c.west) -- (\c.west);
\foreach \c in {b3b1,b3b2} \draw[link] (b3b.east) -| ([xshift=-2mm]\c.west) -- (\c.west);
\foreach \c in {b3c1,b3c2,b3c3} \draw[link] (b3c.east) -| ([xshift=-2mm]\c.west) -- (\c.west);
\foreach \c in {b3c1a,b3c1b} \draw[link] (b3c1.east) -| ([xshift=-2mm]\c.west) -- (\c.west);
\foreach \c in {b3c1a1,b3c1a2,b3c1a3} \draw[link] (b3c1a.east) -| ([xshift=-2mm]\c.west) -- (\c.west);
\foreach \c in {b3c1b1,b3c1b2} \draw[link] (b3c1b.east) -| ([xshift=-2mm]\c.west) -- (\c.west);
\foreach \c in {b3c2a,b3c2b,b3c2c} \draw[link] (b3c2.east) -| ([xshift=-2mm]\c.west) -- (\c.west);
\foreach \c in {b3c3a,b3c3b} \draw[link] (b3c3.east) -| ([xshift=-2mm]\c.west) -- (\c.west);
\draw[link] (b3c3a.east) -- (b3c3a1.west);
\foreach \c in {b3c3b1,b3c3b2} \draw[link] (b3c3b.east) -| ([xshift=-2mm]\c.west) -- (\c.west);
\foreach \c in {b3d1,b3d2} \draw[link] (b3d.east) -| ([xshift=-2mm]\c.west) -- (\c.west);
\draw[link] (b3e.east) -- (b3e1.west);

% right: template 4
\foreach \c in {d1,d2,d3,d4,d5,d6} \draw[link] (td.east) -| ([xshift=-2mm]\c.west) -- (\c.west);
\foreach \c in {d4a,d4b,d4c} \draw[link] (d4.east) -| ([xshift=-2mm]\c.west) -- (\c.west);
\foreach \c in {d4b1,d4b2,d4b3} \draw[link] (d4b.east) -| ([xshift=-2mm]\c.west) -- (\c.west);
\foreach \c in {d5a,d5b} \draw[link] (d5.east) -| ([xshift=-2mm]\c.west) -- (\c.west);
\foreach \c in {d6a,d6b,d6c} \draw[link] (d6.east) -| ([xshift=-2mm]\c.west) -- (\c.west);
\draw[link] (d6a.east) -- (d6a1.west);
\draw[link] (d6c.east) -- (d6c1.west);

% right: related articles
\foreach \c in {r1,r2,r3,r4,r5,r6,r7,r8,r9,r10} \draw[link] (rel.east) -| ([xshift=-2mm]\c.west) -- (\c.west);

\end{tikzpicture}
\end{document}
